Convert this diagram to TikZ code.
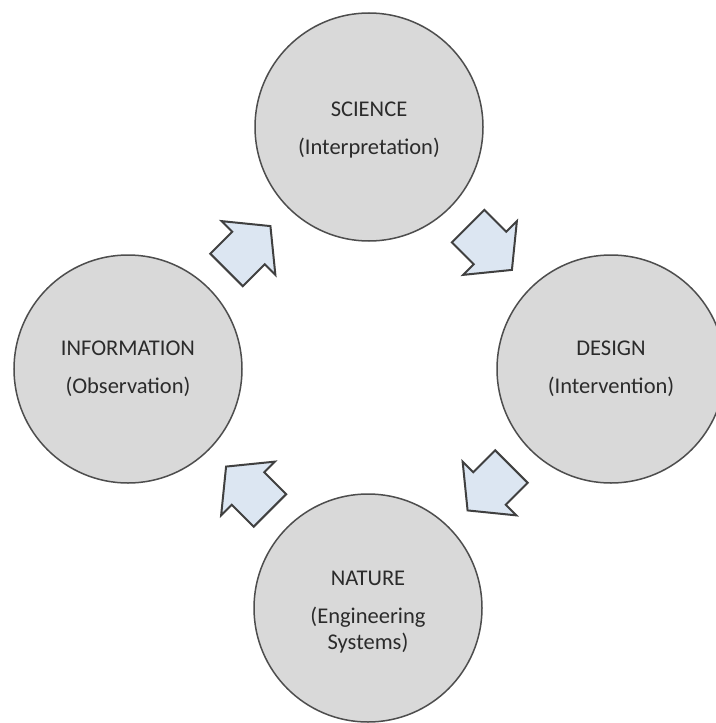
\documentclass[tikz,border=0pt]{standalone}
\usepackage{fontspec}
\setmainfont{Carlito}
\usetikzlibrary{calc}
\definecolor{circfill}{HTML}{D9D9D9}
\definecolor{circline}{HTML}{4D4D4D}
\definecolor{arrfill}{HTML}{DCE6F2}
\definecolor{arrline}{HTML}{404040}
\definecolor{txt}{HTML}{2B2B2B}
\tikzset{
  circ/.style={circle, draw=circline, line width=1.5bp, fill=circfill, minimum size=228bp, inner sep=0pt},
  lbl/.style={text=txt, align=center, inner sep=0pt, font=\fontsize{22.5bp}{25.5bp}\selectfont},
  arrowstyle/.style={draw=arrline, line width=2bp, fill=arrfill, line join=miter},
  blockarrow/.pic={\draw[arrowstyle] (-31,-23) -- (0,-23) -- (0,-38) -- (31,0) -- (0,38) -- (0,23) -- (-31,23) -- cycle;}
}
\begin{document}
\begin{tikzpicture}[x=1bp,y=-1bp]
\useasboundingbox[fill=white] (0,0) rectangle (716,723);
\node[circ] (sci) at (369,127) {};
\node[circ] (inf) at (128,369) {};
\node[circ] (des) at (611,369) {};
\node[circ] (nat) at (368,608) {};
\node[lbl] (scit) at ($(sci)+(0,3)$) {SCIENCE\\[13bp](Interpretation)};
\node[lbl] (inft) at ($(inf)+(0,0)$) {INFORMATION\\[13bp](Observation)};
\node[lbl] (dest) at ($(des)+(0,0)$) {DESIGN\\[13bp](Intervention)};
\node[lbl] (natt) at ($(nat)+(0,4)$) {NATURE\\[13bp](Engineering\\Systems)};
\pic[rotate=45] (a1) at ($(inf)!0.5!(sci)$) {blockarrow};
\pic[rotate=-45] (a2) at ($(sci)!0.5!(des)$) {blockarrow};
\pic[rotate=-135] (a3) at ($(des)!0.5!(nat)$) {blockarrow};
\pic[rotate=135] (a4) at ($(nat)!0.5!(inf)$) {blockarrow};
\end{tikzpicture}
\end{document}
